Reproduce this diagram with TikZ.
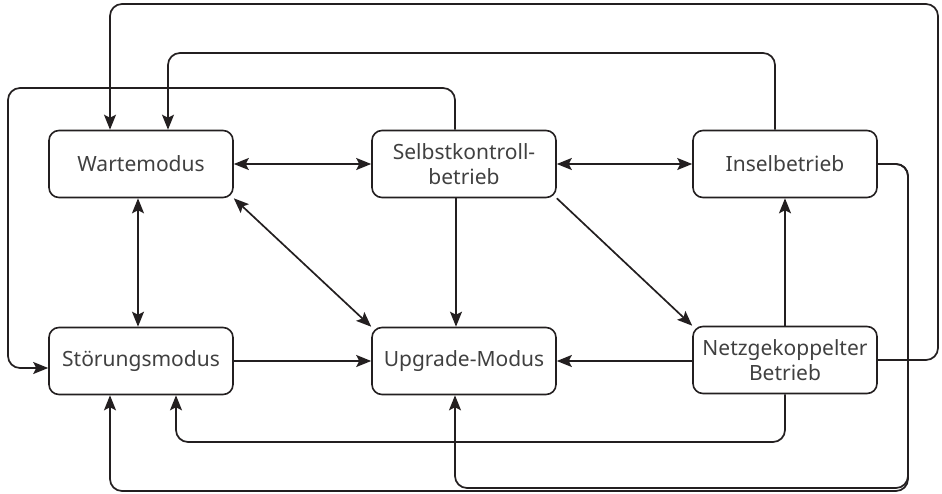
\documentclass[tikz,border=0pt]{standalone}
\usepackage{fontspec}
\setmainfont{Noto Sans}
\usetikzlibrary{arrows.meta}

\definecolor{linegray}{HTML}{231F20}
\definecolor{textgray}{HTML}{404040}

\tikzset{
	modus/.style={draw=linegray, line width=1.6pt, rounded corners=10pt,
		minimum width=184pt, minimum height=67pt, inner sep=0pt, align=center,
		text=textgray, font=\fontsize{21}{25}\selectfont},
	>={Stealth[length=15pt,width=12pt,inset=3pt]}
}

\begin{document}
\begin{tikzpicture}[x=1pt, y=-1pt, line width=1.7pt, draw=linegray]
	\useasboundingbox (0,0) rectangle (942,493);
	\node [modus] (warte) at (141,164) {Wartemodus};
	\node [modus] (selbst) at (464,164) {Selbstkontroll-\\betrieb};
	\node [modus] (insel) at (785,164) {Inselbetrieb};
	\node [modus] (stoer) at (141,361) {Störungsmodus};
	\node [modus] (upgrade) at (464,361) {Upgrade-Modus};
	\node [modus] (netz) at (785,360) {Netzgekoppelter\\Betrieb};
	\draw [arrows={<->}] (warte) -- (selbst);
	\draw [arrows={<->}] (selbst) -- (insel);
	\draw [arrows={<->}] ([xshift=-3pt]warte.south) -- ([xshift=-3pt]stoer.north);
	\draw [arrows={<->}] (warte.south east) -- (upgrade.north west);
	\draw [arrows={->}] ([xshift=-8pt]selbst.south) -- ([xshift=-8pt]upgrade.north);
	\draw [arrows={->}] (selbst.south east) -- (netz.north west);
	\draw [arrows={->}] (stoer) -- (upgrade);
	\draw [arrows={->}] (netz.west |- upgrade) -- (upgrade);
	\draw [arrows={->}] (netz) -- (insel);
	\draw [arrows={->}, rounded corners=12pt] (netz.east) -| (938,4) -| ([xshift=-31pt]warte.north);
	\draw [arrows={->}, rounded corners=12pt] ([xshift=-10pt]insel.north) |- (168,53) -- ([xshift=27pt]warte.north);
	\draw [arrows={->}, rounded corners=12pt] ([xshift=-9pt]selbst.north) |- (8,88) |- ([yshift=-7pt]stoer.west);
	\draw [arrows={->}, rounded corners=12pt] (netz.south) |- (176,442) -- ([xshift=35pt]stoer.south);
	\draw [arrows={->}, rounded corners=12pt] (insel.east) -| (908,491) -| ([xshift=-31pt]stoer.south);
	\draw [arrows={->}, rounded corners=12pt] (insel.east) -| (908,488) -| ([xshift=-9pt]upgrade.south);
\end{tikzpicture}
\end{document}
